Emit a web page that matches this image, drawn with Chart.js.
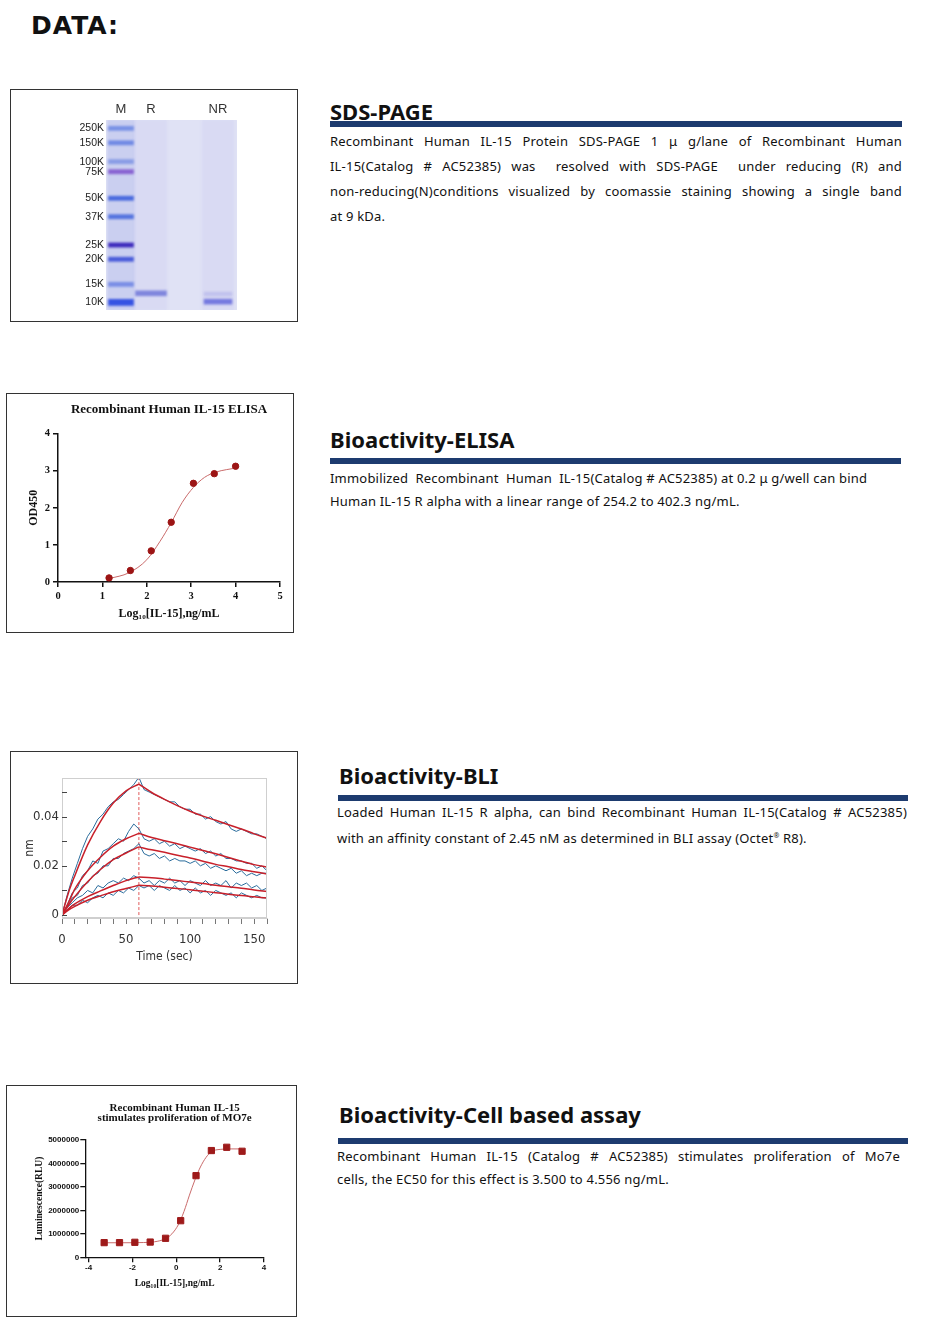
<!DOCTYPE html>
<html>
<head>
<meta charset="utf-8">
<script src="https://cdn.jsdelivr.net/npm/chart.js@4.4.1/dist/chart.umd.min.js"></script>
<style>
  body { margin: 0; background: #fff; }
  #page { position: relative; width: 937px; height: 1339px; overflow: hidden; font-family: "Noto Sans", sans-serif; color: #111; }
  .box { position: absolute; border: 1px solid #333; box-sizing: border-box; background: #fff; }
  .box canvas { position: absolute; left: 0; top: 0; }
  .title { position: absolute; left: 31px; top: 13px; font: bold 25px/25px "DejaVu Sans", sans-serif; letter-spacing: 1px; color: #111; }
  .h { position: absolute; font-weight: 700; font-size: 22px; line-height: 22px; white-space: nowrap; color: #111; }
  .bar { position: absolute; height: 6px; background: #1d3b6f; }
  .p { position: absolute; font-size: 13px; letter-spacing: 0.2px; color: #111; }
  .p div { white-space: nowrap; }
  .p div.j { white-space: normal; text-align: justify; text-align-last: justify; }
  sup { font-size: 7px; vertical-align: 5px; }
</style>
</head>
<body>
<div id="page">
  <div class="title">DATA:</div>

  <div class="box" style="left:10px;top:89px;width:288px;height:233px;"><canvas id="gel" width="286" height="231"></canvas></div>
  <div class="box" style="left:6px;top:393px;width:288px;height:240px;"><canvas id="elisa" width="286" height="238"></canvas></div>
  <div class="box" style="left:10px;top:751px;width:288px;height:233px;"><canvas id="bli" width="286" height="231"></canvas></div>
  <div class="box" style="left:6px;top:1085px;width:291px;height:232px;"><canvas id="cell" width="289" height="230"></canvas></div>

  <div class="h" style="left:330px;top:100px;">SDS-PAGE</div>
  <div class="bar" style="left:330px;top:121px;width:572px;"></div>
  <div class="p" style="left:330px;top:129px;width:572px;line-height:25px;">
    <div class="j">Recombinant Human IL-15 Protein SDS-PAGE 1 μ g/lane of Recombinant Human</div>
    <div class="j">IL-15(Catalog # AC52385) was &nbsp;resolved with SDS-PAGE &nbsp;under reducing (R) and</div>
    <div class="j">non-reducing(N)conditions visualized by coomassie staining showing a single band</div>
    <div>at 9 kDa.</div>
  </div>

  <div class="h" style="left:330px;top:428px;">Bioactivity-ELISA</div>
  <div class="bar" style="left:330px;top:458px;width:571px;"></div>
  <div class="p" style="left:330px;top:467px;width:571px;line-height:23px;">
    <div>Immobilized &nbsp;Recombinant &nbsp;Human &nbsp;IL-15(Catalog # AC52385) at 0.2 μ g/well can bind</div>
    <div>Human IL-15 R alpha with a linear range of 254.2 to 402.3 ng/mL.</div>
  </div>

  <div class="h" style="left:339px;top:764px;">Bioactivity-BLI</div>
  <div class="bar" style="left:338px;top:795px;width:570px;"></div>
  <div class="p" style="left:337px;top:800px;width:570px;line-height:24px;">
    <div class="j">Loaded Human IL-15 R alpha, can bind Recombinant Human IL-15(Catalog # AC52385)</div>
    <div>with an affinity constant of 2.45 nM as determined in BLI assay (Octet<sup>®</sup> R8).</div>
  </div>

  <div class="h" style="left:339px;top:1103px;">Bioactivity-Cell based assay</div>
  <div class="bar" style="left:338px;top:1138px;width:570px;"></div>
  <div class="p" style="left:337px;top:1145px;width:563px;line-height:23px;">
    <div class="j">Recombinant Human IL-15 (Catalog # AC52385) stimulates proliferation of Mo7e</div>
    <div>cells, the EC50 for this effect is 3.500 to 4.556 ng/mL.</div>
  </div>
</div>

<script>
// ---- SDS-PAGE gel (migration 0 = top of gel, 100 = bottom) ----
const gelLanes = ['M', 'R', 'NR'];
const gelLaneX = [15, 45, 112];
const markerLabels = ['250K', '150K', '100K', '75K', '50K', '37K', '25K', '20K', '15K', '10K'];
const markerPos = [4.4, 12.0, 21.9, 27.2, 41.2, 50.9, 65.8, 73.3, 86.5, 96.0];
const laneRBands = [91.2];
const laneNRBands = [91.6, 95.6];

// ---- ELISA ----
const elisaLogConc = [1.15, 1.63, 2.1, 2.55, 3.05, 3.52, 4.0];
const elisaOD = [0.11, 0.31, 0.84, 1.61, 2.66, 2.92, 3.12];
const elisaFitX = [1.15, 1.6, 2.0, 2.3, 2.55, 2.8, 3.05, 3.3, 3.55, 3.8, 4.0];
const elisaFitY = [0.09, 0.25, 0.6, 1.1, 1.6, 2.15, 2.55, 2.82, 2.96, 3.03, 3.07];

// ---- BLI sensorgrams ----
const bliTime = [0, 4, 8, 12, 16, 20, 24, 28, 32, 36, 40, 44, 48, 52, 56, 60, 64, 68, 72, 76, 80,
                 84, 88, 92, 96, 100, 104, 108, 112, 116, 120, 124, 128, 132, 136, 140, 144, 148, 152, 156, 160];
const bliRaw1 = [0, 0.008, 0.015, 0.021, 0.027, 0.032, 0.035, 0.039, 0.041, 0.044, 0.046, 0.047, 0.049, 0.051, 0.053, 0.056,
                 0.051, 0.050, 0.049, 0.048, 0.047, 0.046, 0.046, 0.044, 0.043, 0.043, 0.041, 0.041, 0.039, 0.040, 0.038,
                 0.037, 0.038, 0.035, 0.034, 0.035, 0.034, 0.033, 0.033, 0.032, 0.031];
const bliRaw2 = [0, 0.004, 0.009, 0.011, 0.016, 0.018, 0.022, 0.021, 0.026, 0.027, 0.029, 0.031, 0.030, 0.034, 0.037, 0.035,
                 0.031, 0.030, 0.031, 0.029, 0.030, 0.028, 0.029, 0.027, 0.028, 0.027, 0.026, 0.027, 0.025, 0.026, 0.024,
                 0.025, 0.023, 0.023, 0.022, 0.022, 0.021, 0.021, 0.019, 0.020, 0.018];
const bliRaw3 = [0, 0.003, 0.007, 0.008, 0.012, 0.013, 0.016, 0.017, 0.020, 0.020, 0.023, 0.023, 0.025, 0.026, 0.027, 0.029,
                 0.025, 0.024, 0.025, 0.023, 0.024, 0.022, 0.023, 0.022, 0.022, 0.021, 0.022, 0.020, 0.021, 0.019, 0.020,
                 0.019, 0.018, 0.019, 0.017, 0.018, 0.016, 0.017, 0.016, 0.017, 0.017];
const bliRaw4 = [0, 0.003, 0.005, 0.007, 0.008, 0.010, 0.009, 0.012, 0.011, 0.013, 0.014, 0.013, 0.015, 0.014, 0.016, 0.015,
                 0.013, 0.014, 0.012, 0.014, 0.013, 0.015, 0.013, 0.014, 0.012, 0.014, 0.013, 0.012, 0.014, 0.012, 0.013,
                 0.012, 0.014, 0.011, 0.013, 0.012, 0.013, 0.011, 0.012, 0.010, 0.011];
const bliRaw5 = [0, 0.002, 0.004, 0.004, 0.006, 0.005, 0.007, 0.008, 0.007, 0.009, 0.008, 0.010, 0.009, 0.011, 0.010, 0.012,
                 0.011, 0.012, 0.010, 0.012, 0.011, 0.010, 0.012, 0.010, 0.011, 0.009, 0.011, 0.009, 0.010, 0.008, 0.010,
                 0.009, 0.008, 0.009, 0.007, 0.009, 0.008, 0.007, 0.008, 0.007, 0.007];
const bliFitTime = [0, 5, 10, 20, 30, 40, 50, 60, 70, 80, 90, 100, 110, 120, 130, 140, 150, 160];
const bliFit1 = [0, 0.009, 0.016, 0.0285, 0.038, 0.0455, 0.0505, 0.0532, 0.0498, 0.047, 0.0445, 0.0422, 0.0402, 0.0385, 0.0367, 0.035, 0.033, 0.0312];
const bliFit2 = [0, 0.005, 0.0105, 0.018, 0.0235, 0.028, 0.031, 0.0332, 0.0315, 0.0302, 0.029, 0.0276, 0.0262, 0.0249, 0.0234, 0.0219, 0.0205, 0.0195];
const bliFit3 = [0, 0.004, 0.0075, 0.0135, 0.0185, 0.0225, 0.0252, 0.0277, 0.0265, 0.0255, 0.0243, 0.0232, 0.0219, 0.0206, 0.0196, 0.0185, 0.0176, 0.0167];
const bliFit4 = [0, 0.0025, 0.0045, 0.0075, 0.0098, 0.012, 0.014, 0.0155, 0.0152, 0.0146, 0.014, 0.0134, 0.0128, 0.0121, 0.0115, 0.0109, 0.0102, 0.0096];
const bliFit5 = [0, 0.002, 0.0035, 0.006, 0.0078, 0.0095, 0.0108, 0.0121, 0.0118, 0.0113, 0.0108, 0.0103, 0.0097, 0.0091, 0.0085, 0.0079, 0.0074, 0.0069];
const bliSwitch = 60;

// ---- Cell based assay (MO7e) ----
const cellLogConc = [-3.29, -2.59, -1.89, -1.19, -0.49, 0.2, 0.9, 1.6, 2.3, 3.0];
const cellRLU = [625000, 625000, 640000, 650000, 810000, 1560000, 3480000, 4550000, 4690000, 4520000];
const cellFitX = [-3.29, -2.5, -1.5, -1.0, -0.5, -0.2, 0.1, 0.35, 0.6, 0.85, 1.1, 1.35, 1.6, 2.0, 2.5, 3.0];
const cellFitY = [620000, 620000, 630000, 660000, 790000, 1000000, 1400000, 1950000, 2650000, 3300000, 3850000, 4250000, 4500000, 4600000, 4620000, 4620000];

const xy = (xs, ys) => xs.map((x, i) => ({ x: x, y: ys[i] }));
const serif = 'Liberation Serif, serif';
const narrow = '"Liberation Sans Narrow", "DejaVu Sans Condensed", sans-serif';

Chart.defaults.font.family = 'Liberation Sans, Arial, sans-serif';
Chart.defaults.animation = false;
Chart.defaults.plugins.legend.display = false;
Chart.defaults.plugins.tooltip.enabled = false;

// ---------------- gel ----------------
const markerColors = ['rgba(95,125,225,0.75)', 'rgba(90,120,225,0.8)', 'rgba(110,135,225,0.7)', 'rgba(125,80,205,0.85)',
  'rgba(60,95,220,0.9)', 'rgba(65,100,220,0.85)', 'rgba(55,35,185,0.95)', 'rgba(60,80,215,0.9)',
  'rgba(95,120,225,0.75)', 'rgba(45,75,225,0.95)'];

const gelBackground = {
  id: 'gelBackground',
  beforeDatasetsDraw(chart) {
    const { ctx, chartArea: a } = chart;
    ctx.save();
    ctx.fillStyle = '#e0e2f5';
    ctx.fillRect(a.left, a.top, a.right - a.left, a.bottom - a.top);
    ctx.filter = 'blur(0.9px)';
  },
  afterDatasetsDraw(chart) {
    chart.ctx.restore();
  }
};

new Chart(document.getElementById('gel'), {
  type: 'bar',
  data: {
    datasets: [
      { data: [{ x: gelLaneX[0], y: [0, 100] }], backgroundColor: 'rgba(160,172,232,0.35)', barThickness: 27, order: 3 },
      { data: [{ x: gelLaneX[1], y: [0, 100] }, { x: gelLaneX[2], y: [0, 100] }], backgroundColor: 'rgba(195,197,238,0.25)', barThickness: 32, order: 3 },
      { data: markerPos.map((p, i) => ({ x: gelLaneX[0], y: i === 9 ? [p - 1.6, p + 1.6] : [p - 1.1, p + 1.1] })),
        backgroundColor: markerColors, barThickness: 25, order: 1 },
      { data: laneRBands.map(p => ({ x: gelLaneX[1], y: [p - 1.3, p + 1.3] })),
        backgroundColor: 'rgba(105,112,215,0.8)', barThickness: 31, order: 1 },
      { data: laneNRBands.map((p, i) => ({ x: gelLaneX[2], y: i === 0 ? [p - 1.0, p + 1.0] : [p - 1.3, p + 1.3] })),
        backgroundColor: ['rgba(150,150,225,0.35)', 'rgba(100,105,220,0.85)'], barThickness: 28, order: 1 }
    ]
  },
  options: {
    responsive: false,
    grouped: false,
    layout: { padding: { left: 0, right: 60, top: 0, bottom: 11 } },
    scales: {
      x: {
        type: 'linear', position: 'top', min: 0, max: 131, offset: false,
        grid: { display: false, drawTicks: false }, border: { display: false },
        afterBuildTicks: s => { s.ticks = gelLaneX.map(v => ({ value: v })); },
        afterFit: s => { s.height = 30; },
        ticks: { autoSkip: false, maxRotation: 0, padding: 3, color: '#333', font: { size: 13 },
                 callback: (v, i) => gelLanes[i] }
      },
      y: {
        reverse: true, min: 0, max: 100,
        grid: { display: false, drawTicks: false }, border: { display: false },
        afterBuildTicks: s => { s.ticks = markerPos.map(v => ({ value: v })); },
        afterFit: s => { s.width = 95; },
        ticks: { autoSkip: false, padding: 2, color: '#222', font: { size: 10.5 },
                 callback: (v, i) => markerLabels[i] }
      }
    }
  },
  plugins: [gelBackground]
});

// ---------------- ELISA ----------------
new Chart(document.getElementById('elisa'), {
  type: 'scatter',
  data: {
    datasets: [
      { data: xy(elisaLogConc, elisaOD), pointRadius: 3.2, backgroundColor: '#9c1414', borderColor: '#9c1414', order: 0 },
      { data: xy(elisaFitX, elisaFitY), showLine: true, pointRadius: 0, borderColor: '#c96a6a', borderWidth: 1,
        cubicInterpolationMode: 'monotone', order: 1 }
    ]
  },
  options: {
    responsive: false,
    layout: { padding: { left: 16, right: 13, top: 0, bottom: 7 } },
    plugins: {
      title: { display: true, fullSize: false, text: 'Recombinant Human IL-15 ELISA', color: '#111',
               font: { family: serif, size: 13, weight: 'bold' }, padding: { top: 8, bottom: 16 } }
    },
    scales: {
      x: {
        min: 0, max: 5,
        afterFit: s => { s.height = 43; },
        border: { color: '#111', width: 1.5 },
        grid: { drawOnChartArea: false, color: '#111', lineWidth: 1.5, tickLength: 5 },
        ticks: { stepSize: 1, padding: 3, color: '#111', font: { family: serif, size: 10.5, weight: 'bold' } },
        title: { display: true, text: 'Log₁₀[IL-15],ng/mL', color: '#111', font: { family: serif, size: 12, weight: 'bold' } }
      },
      y: {
        min: 0, max: 4,
        afterFit: s => { s.width = 35; },
        border: { color: '#111', width: 1.5 },
        grid: { drawOnChartArea: false, color: '#111', lineWidth: 1.5, tickLength: 5 },
        ticks: { stepSize: 1, padding: 3, color: '#111', font: { family: serif, size: 10.5, weight: 'bold' } },
        title: { display: true, text: 'OD450', color: '#111', font: { family: serif, size: 12, weight: 'bold' } }
      }
    }
  }
});

// ---------------- BLI ----------------
const bliFrame = {
  id: 'bliFrame',
  afterDraw(chart) {
    const { ctx, chartArea: a, scales } = chart;
    ctx.save();
    ctx.strokeStyle = '#cfcfcf';
    ctx.lineWidth = 1;
    ctx.strokeRect(a.left + 0.5, a.top + 0.5, a.right - a.left - 1, a.bottom - a.top - 1);
    ctx.strokeStyle = '#444';
    scales.y.ticks.forEach(t => {
      const y = Math.round(scales.y.getPixelForValue(t.value)) + 0.5;
      ctx.beginPath();
      ctx.moveTo(a.left, y);
      ctx.lineTo(a.left + 5, y);
      ctx.stroke();
    });
    ctx.restore();
  }
};

const splitAt = bliFitTime.indexOf(bliSwitch);
const fitSets = [bliFit1, bliFit2, bliFit3, bliFit4, bliFit5].flatMap(f => [
  { data: xy(bliFitTime.slice(0, splitAt + 1), f.slice(0, splitAt + 1)) },
  { data: xy(bliFitTime.slice(splitAt), f.slice(splitAt)) }
]).map(d => Object.assign(d, { showLine: true, pointRadius: 0, borderColor: '#c8202a', borderWidth: 1.5,
  cubicInterpolationMode: 'monotone', order: 0 }));
const rawSets = [bliRaw1, bliRaw2, bliRaw3, bliRaw4, bliRaw5].map(r => ({
  data: xy(bliTime, r), showLine: true, pointRadius: 0, borderColor: '#2a6c9c', borderWidth: 1, order: 1
}));

new Chart(document.getElementById('bli'), {
  type: 'scatter',
  data: {
    datasets: fitSets.concat(rawSets, [{
      data: [{ x: bliSwitch, y: 0 }, { x: bliSwitch, y: 0.0557 }], showLine: true, pointRadius: 0,
      borderColor: '#e05a5a', borderWidth: 1, borderDash: [3, 2], order: 2
    }])
  },
  options: {
    responsive: false,
    layout: { padding: { left: 8, right: 30, top: 26, bottom: 15 } },
    scales: {
      x: {
        min: 0, max: 160,
        afterFit: s => { s.height = 50; },
        border: { color: '#cfcfcf' },
        grid: { drawOnChartArea: false, color: '#777', tickLength: 6 },
        ticks: { stepSize: 10, autoSkip: false, maxRotation: 0, includeBounds: false, padding: 8, color: '#333',
                 font: { family: narrow, size: 13 }, callback: v => (v % 50 === 0 ? v : '') },
        title: { display: true, text: 'Time (sec)', color: '#333', font: { family: narrow, size: 12 } }
      },
      y: {
        min: -0.0012, max: 0.0557,
        afterFit: s => { s.width = 43; },
        border: { color: '#cfcfcf' },
        grid: { display: false, drawTicks: false },
        ticks: { stepSize: 0.01, includeBounds: false, autoSkip: false, padding: 3, color: '#333',
                 font: { family: narrow, size: 13 },
                 callback: v => { const k = Math.round(v * 1000); return k % 20 === 0 ? (k === 0 ? '0' : (k / 1000).toFixed(2)) : ''; } },
        title: { display: true, text: 'nm', color: '#333', font: { family: narrow, size: 12 } }
      }
    }
  },
  plugins: [bliFrame]
});

// ---------------- Cell based assay ----------------
new Chart(document.getElementById('cell'), {
  type: 'scatter',
  data: {
    datasets: [
      { data: xy(cellLogConc, cellRLU), pointStyle: 'rect', pointRadius: 4.4, backgroundColor: '#9e1a1a', borderColor: '#9e1a1a', order: 0 },
      { data: xy(cellFitX, cellFitY), showLine: true, pointRadius: 0, borderColor: '#c96a6a', borderWidth: 1,
        cubicInterpolationMode: 'monotone', order: 1 }
    ]
  },
  options: {
    responsive: false,
    layout: { padding: { left: 22.6, right: 32, top: 0, bottom: 22.3 } },
    plugins: {
      title: { display: true, fullSize: false, text: ['Recombinant Human IL-15', 'stimulates proliferation of MO7e'],
               color: '#111', font: { family: serif, size: 11, weight: 'bold', lineHeight: 0.95 },
               padding: { top: 16.8, bottom: 16.3 } }
    },
    scales: {
      x: {
        min: -4.15, max: 4,
        afterFit: s => { s.height = 36.4; },
        border: { color: '#111', width: 1.3 },
        grid: { drawOnChartArea: false, color: '#111', lineWidth: 1.3, tickLength: 5 },
        ticks: { stepSize: 2, includeBounds: false, padding: 1, color: '#111', font: { size: 8, weight: 'bold' } },
        title: { display: true, text: 'Log₁₀[IL-15],ng/mL', color: '#111', font: { family: serif, size: 9.5, weight: 'bold' } }
      },
      y: {
        min: 0, max: 5000000,
        afterFit: s => { s.width = 55.7; },
        border: { color: '#111', width: 1.3 },
        grid: { drawOnChartArea: false, color: '#111', lineWidth: 1.3, tickLength: 5 },
        ticks: { stepSize: 1000000, padding: 1, color: '#111', font: { size: 8, weight: 'bold' }, callback: v => String(v) },
        title: { display: true, text: 'Luminescence(RLU)', color: '#111', font: { family: serif, size: 9.5, weight: 'bold' } }
      }
    }
  }
});
</script>
</body>
</html>
